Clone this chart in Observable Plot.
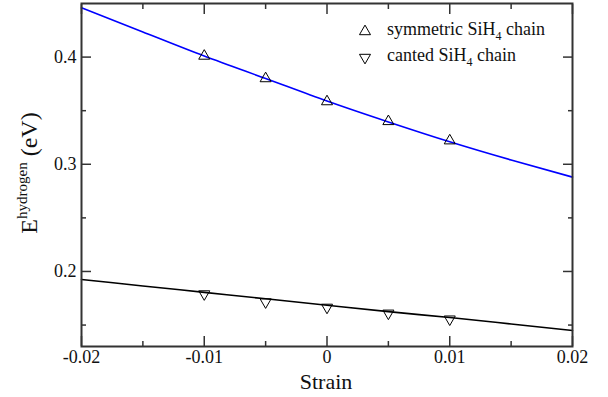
<!DOCTYPE html>
<html>
<head>
<meta charset="utf-8">
<script src="https://cdn.jsdelivr.net/npm/d3@7"></script>
<script src="https://cdn.jsdelivr.net/npm/@observablehq/plot@0.6"></script>
<style>
  html, body { margin: 0; padding: 0; background: #fff; }
  #chart svg { display: block; }
</style>
</head>
<body>
<div id="chart"></div>
<script>
// ---- data ----
const strain = [-0.01, -0.005, 0, 0.005, 0.01];
const symmetricE = [0.401, 0.380, 0.3585, 0.340, 0.322];
const cantedE = [0.179, 0.1715, 0.1665, 0.161, 0.1555];

const fitStrain = [-0.02, -0.015, -0.01, -0.005, 0, 0.005, 0.01, 0.015, 0.02];
const symmetricFit = [0.446, 0.4235, 0.401, 0.380, 0.359, 0.3395, 0.321, 0.304, 0.288];
const cantedFit = [0.1925, 0.1865, 0.1805, 0.1745, 0.1685, 0.1625, 0.157, 0.151, 0.145];

const xMajor = [-0.02, -0.01, 0, 0.01, 0.02];
const xMajorLabels = ["-0.02", "-0.01", "0", "0.01", "0.02"];
const xMinor = [-0.015, -0.005, 0.005, 0.015];
const yMajor = [0.2, 0.3, 0.4];
const yMajorLabels = ["0.2", "0.3", "0.4"];
const yMinor = [0.15, 0.25, 0.35];

const seriesNames = ["symmetric SiH", "canted SiH"];

// ---- tables ----
const symPts = strain.map((x, i) => ({x, y: symmetricE[i]}));
const canPts = strain.map((x, i) => ({x, y: cantedE[i]}));
const symLine = fitStrain.map((x, i) => ({x, y: symmetricFit[i]}));
const canLine = fitStrain.map((x, i) => ({x, y: cantedFit[i]}));

const tickColor = "#333";
const blank = () => "";
const font = "'Liberation Serif', 'Times New Roman', Times, Tinos, 'Nimbus Roman', 'DejaVu Serif', 'Noto Serif', FreeSerif, serif";

const chart = Plot.plot({
  width: 608,
  height: 397,
  marginLeft: 81,
  marginRight: 36,
  marginTop: 3,
  marginBottom: 51,
  x: {domain: [-0.02, 0.02]},
  y: {domain: [0.13, 0.45]},
  style: {fontFamily: font, fontSize: "18px", color: "#111", background: "#fff"},
  marks: [
    // tick labels
    Plot.axisX({anchor: "bottom", ticks: xMajor, tickSize: 0, tickPadding: 4, tickFormat: (d, i) => xMajorLabels[i], label: null, fontSize: 18}),
    Plot.axisY({anchor: "left", ticks: yMajor, tickSize: 0, tickPadding: 5, tickFormat: (d, i) => yMajorLabels[i], label: null, fontSize: 18}),
    // inward ticks on all four sides
    Plot.axisX({anchor: "bottom", ticks: xMajor, tickSize: -10, tickFormat: blank, label: null, stroke: tickColor, strokeWidth: 1.5}),
    Plot.axisX({anchor: "bottom", ticks: xMinor, tickSize: -5, tickFormat: blank, label: null, stroke: tickColor, strokeWidth: 1.5}),
    Plot.axisX({anchor: "top", ticks: xMajor, tickSize: -10, tickFormat: blank, label: null, stroke: tickColor, strokeWidth: 1.5}),
    Plot.axisX({anchor: "top", ticks: xMinor, tickSize: -5, tickFormat: blank, label: null, stroke: tickColor, strokeWidth: 1.5}),
    Plot.axisY({anchor: "left", ticks: yMajor, tickSize: -10, tickFormat: blank, label: null, stroke: tickColor, strokeWidth: 1.5}),
    Plot.axisY({anchor: "left", ticks: yMinor, tickSize: -5, tickFormat: blank, label: null, stroke: tickColor, strokeWidth: 1.5}),
    Plot.axisY({anchor: "right", ticks: yMajor, tickSize: -10, tickFormat: blank, label: null, stroke: tickColor, strokeWidth: 1.5}),
    Plot.axisY({anchor: "right", ticks: yMinor, tickSize: -5, tickFormat: blank, label: null, stroke: tickColor, strokeWidth: 1.5}),
    // fit curves
    Plot.line(symLine, {x: "x", y: "y", stroke: "#0000ff", strokeWidth: 1.6, curve: "natural"}),
    Plot.line(canLine, {x: "x", y: "y", stroke: "#000", strokeWidth: 1.6, curve: "natural"}),
    // data points
    Plot.dot(symPts, {x: "x", y: "y", symbol: "triangle", r: 4.1, stroke: "#000", strokeWidth: 1, fill: "none"}),
    Plot.dot(canPts, {x: "x", y: "y", symbol: "triangle", rotate: 180, r: 4.1, stroke: "#000", strokeWidth: 1, fill: "none"}),
    Plot.frame({stroke: tickColor, strokeWidth: 2})
  ]
});

document.getElementById("chart").appendChild(chart);

// ---- axis titles and legend (rich text) ----
const svg = d3.select(chart);

svg.append("text")
  .attr("x", 326).attr("y", 389)
  .attr("text-anchor", "middle")
  .style("font-family", font).attr("font-size", 22).attr("fill", "#111")
  .text("Strain");

const yl = svg.append("text")
  .attr("transform", "translate(37,173) rotate(-90)")
  .attr("text-anchor", "middle")
  .style("font-family", font).attr("font-size", 24).attr("fill", "#111");
yl.append("tspan").text("E");
yl.append("tspan").attr("font-size", 15).attr("dy", -10).text("hydrogen");
yl.append("tspan").attr("dy", 10).text("\u00a0(eV)");

const legendRows = [{y: 31.5, rot: 0}, {y: 57.5, rot: 180}];
legendRows.forEach((row, i) => {
  svg.append("path")
    .attr("d", d3.symbol(d3.symbolTriangle, Math.PI * 4.1 * 4.1)())
    .attr("transform", `translate(365,${row.y}) rotate(${row.rot})`)
    .attr("fill", "none").attr("stroke", "#000").attr("stroke-width", 1);
  const t = svg.append("text")
    .attr("x", 387).attr("y", row.y + 3.5)
    .attr("text-anchor", "start")
    .style("font-family", font).attr("font-size", 18).attr("fill", "#111");
  t.append("tspan").text(seriesNames[i]);
  t.append("tspan").attr("font-size", 12).attr("dy", 5).text("4");
  t.append("tspan").attr("dy", -5).text(" chain");
});
</script>
</body>
</html>
